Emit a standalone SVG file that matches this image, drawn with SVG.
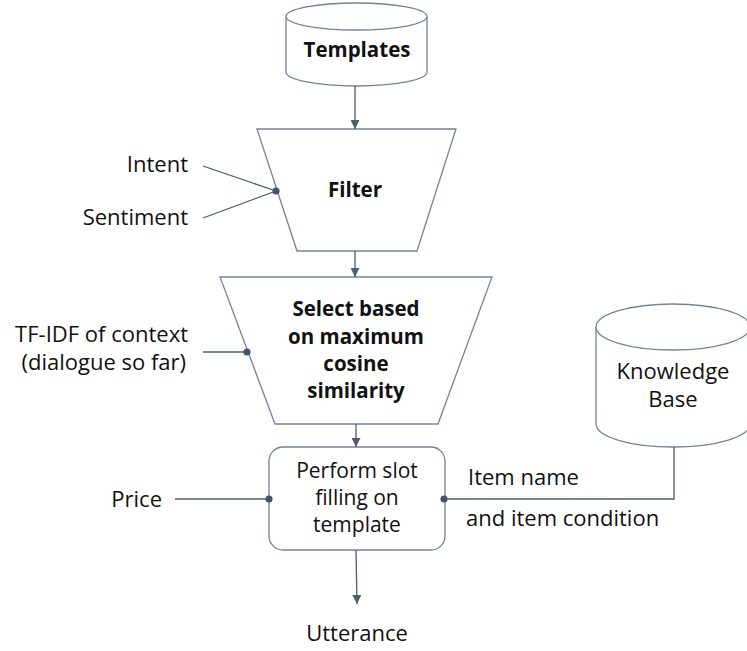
<svg xmlns="http://www.w3.org/2000/svg" width="747" height="651" viewBox="0 0 747 651">
  <style>
    .shape { fill: #ffffff; stroke: #74829a; stroke-width: 1.3; }
    .wire { fill: none; stroke: #4e5c72; stroke-width: 1.3; }
    .dot { fill: #44546a; }
    text { font-family: "Open Sans", "Liberation Sans", sans-serif; fill: #111111; }
    .lbl { font-size: 22px; }
    .bold { font-size: 20.5px; font-weight: 700; }
    .box { font-size: 21px; }
    .mid { text-anchor: middle; }
    .end { text-anchor: end; }
  </style>
  <defs>
    <marker id="arrow" viewBox="0 0 10 10" refX="10" refY="5" markerWidth="9" markerHeight="9" markerUnits="userSpaceOnUse" orient="auto">
      <path d="M0,0 L10,5 L0,10 z" fill="#4e5c72"/>
    </marker>
  </defs>

  <rect width="747" height="651" fill="#ffffff"/>

  <!-- Templates store -->
  <g id="templates">
    <path class="shape" d="M286,16.5 A70.5,13.5 0 0 1 427,16.5 L427,72 A70.5,14 0 0 1 286,72 Z"/>
    <path class="shape" d="M286,16.5 A70.5,13.5 0 0 0 427,16.5" fill="none"/>
    <text class="bold mid" x="357" y="57">Templates</text>
  </g>

  <!-- Filter stage -->
  <g id="filter">
    <polygon class="shape" points="257,129 456,129 417,251 297,251"/>
    <text class="bold mid" x="355" y="197">Filter</text>
  </g>

  <!-- Cosine-similarity selection stage -->
  <g id="select">
    <polygon class="shape" points="220,277 492,277 438,424 275,424"/>
    <text class="bold mid" x="356" y="316">Select based</text>
    <text class="bold mid" x="356" y="344">on maximum</text>
    <text class="bold mid" x="356" y="371">cosine</text>
    <text class="bold mid" x="356" y="398">similarity</text>
  </g>

  <!-- Slot filling step -->
  <g id="slotfill">
    <rect class="shape" x="269" y="447" width="176" height="103" rx="14" ry="14"/>
    <text class="box mid" x="357" y="478">Perform slot</text>
    <text class="box mid" x="357" y="505">filling on</text>
    <text class="box mid" x="357" y="532">template</text>
  </g>

  <!-- Knowledge base store -->
  <g id="knowledge-base">
    <path class="shape" d="M596,327 A77,23 0 0 1 750,327 L750,424 A77,23 0 0 1 596,424 Z"/>
    <path class="shape" d="M596,327 A77,23 0 0 0 750,327" fill="none"/>
    <text class="lbl mid" x="673" y="379">Knowledge</text>
    <text class="lbl mid" x="673" y="407">Base</text>
  </g>

  <!-- Input and output labels -->
  <g id="labels">
    <text class="lbl end" x="188" y="172">Intent</text>
    <text class="lbl end" x="188" y="225">Sentiment</text>
    <text class="lbl end" x="188" y="342">TF-IDF of context</text>
    <text class="lbl end" x="186" y="370">(dialogue so far)</text>
    <text class="lbl end" x="162" y="507">Price</text>
    <text class="lbl" x="468" y="485">Item name</text>
    <text class="lbl" x="466" y="526">and item condition</text>
    <text class="lbl mid" x="357" y="641">Utterance</text>
  </g>

  <!-- Connectors -->
  <g id="connectors">
    <line class="wire" x1="355" y1="86" x2="355" y2="129" marker-end="url(#arrow)"/>
    <line class="wire" x1="355" y1="251" x2="355" y2="277" marker-end="url(#arrow)"/>
    <line class="wire" x1="356" y1="424" x2="356" y2="447" marker-end="url(#arrow)"/>
    <line class="wire" x1="356" y1="550" x2="357" y2="604" marker-end="url(#arrow)"/>
    <line class="wire" x1="203" y1="166" x2="276" y2="191"/>
    <line class="wire" x1="203" y1="218" x2="276" y2="191"/>
    <line class="wire" x1="203" y1="352" x2="247" y2="352"/>
    <line class="wire" x1="175" y1="499" x2="269" y2="499"/>
    <polyline class="wire" points="444,499 674,499 674,447"/>
    <circle class="dot" cx="276" cy="191" r="3.6"/>
    <circle class="dot" cx="247" cy="352" r="3.6"/>
    <circle class="dot" cx="269" cy="499" r="3.6"/>
    <circle class="dot" cx="444" cy="499" r="3.6"/>
  </g>
</svg>
